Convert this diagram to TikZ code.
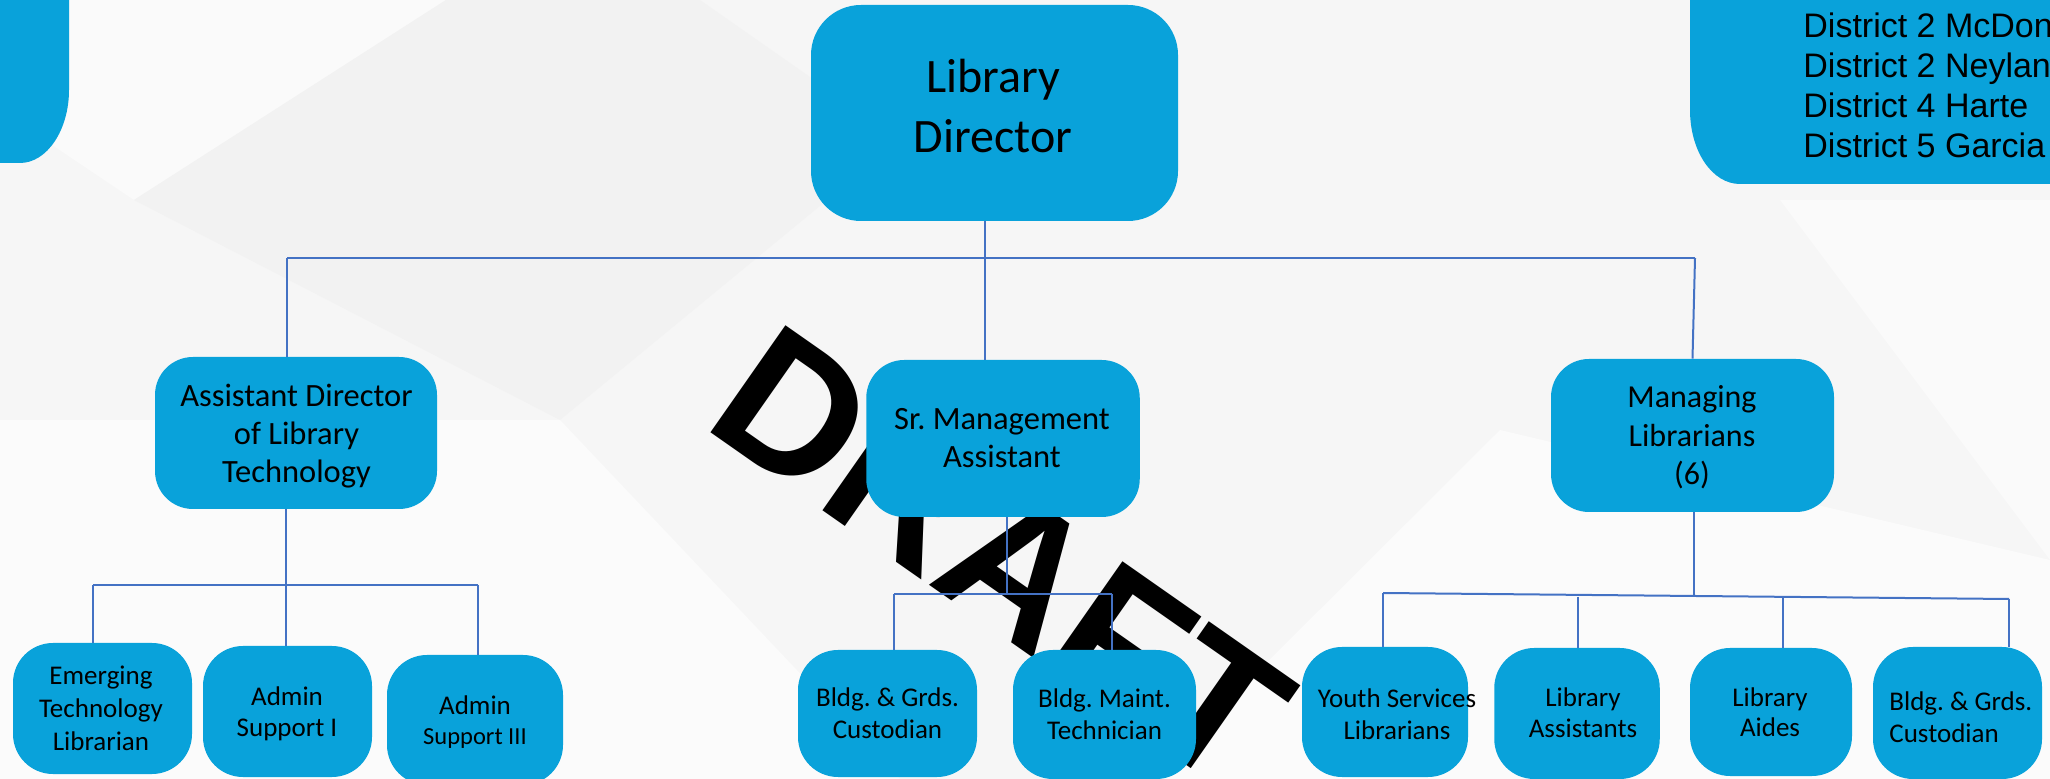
\documentclass[tikz,border=0pt]{standalone}
\usepackage{fontspec}
\setmainfont{Carlito}
\newfontfamily\arialf{Liberation Sans}
\usetikzlibrary{calc}
\definecolor{boxblue}{RGB}{9,162,218}
\definecolor{lineblue}{RGB}{68,114,196}
\definecolor{bgbase}{RGB}{246,246,246}
\definecolor{bglight}{RGB}{250,250,250}
\definecolor{bgwhite}{RGB}{251,251,251}
\definecolor{bgdark}{RGB}{242,242,242}
\newcommand\tbox[1]{\rule{0pt}{1em}#1\rule[-1em]{0pt}{1em}}
\frenchspacing
\tikzset{
  box/.style={fill=boxblue, draw=none, inner sep=0pt, rounded corners=20pt},
  txt/.style={inner sep=0pt, align=center, text=black, execute at begin node=\frenchspacing},
  conn/.style={draw=lineblue, line width=1pt},
  bigf/.style={font=\fontsize{24}{30}\selectfont},
  midf/.style={font=\fontsize{16.25}{19}\selectfont},
  lowf/.style={font=\fontsize{13.5}{16}\selectfont},
}
\begin{document}
\begin{tikzpicture}[x=0.5pt,y=-0.5pt]
\useasboundingbox (0,0) rectangle (2050,779);
\clip (0,0) rectangle (2050,779);
% background
\fill[bgbase] (0,0) rectangle (2050,779);
\fill[bglight] (0,0) -- (446,0) -- (134,200) -- (0,110) -- cycle;
\fill[bgdark] (134,200) -- (446,0) -- (700,0) -- (900,140) -- (560,420) -- cycle;
\fill[bgwhite] (0,420) -- (560,420) -- (900,779) -- (0,779) -- cycle;
\fill[bgwhite] (1150,779) -- (1500,430) -- (2050,560) -- (2050,779) -- cycle;
\fill[bglight] (1780,200) -- (2050,200) -- (2050,560) -- cycle;
% watermark
\node[inner sep=0pt, anchor=base west, rotate=-35, font=\arialf\bfseries\fontsize{95}{95}\selectfont] (draft) at (700,425) {DRAFT};
% corner boxes
\fill[boxblue] (-20,-20) -- (69,-20) -- (69,90) .. controls (69,130) and (47,163) .. (20,163) -- (-20,163) -- cycle;
\fill[boxblue] (2070,-20) -- (1690,-20) -- (1690,110) .. controls (1690,151) and (1712,184) .. (1740,184) -- (2070,184) -- cycle;
\node[txt, align=left, anchor=west, font=\arialf\fontsize{17}{20}\selectfont] (council) at (1803,98)
  {\tbox{District 2 McDon\\District 2 Neylan\\District 4 Harte\\District 5 Garcia}};
% boxes
\node[box, rounded corners=25pt, minimum width=183.5pt, minimum height=108pt] (dir) at (994.5,113) {};
\node[box, rounded corners=19pt, minimum width=141pt, minimum height=76pt] (ad) at (296,433) {};
\node[box, rounded corners=19pt, minimum width=136.75pt, minimum height=78.5pt] (sma) at (1003,438.5) {};
\node[box, rounded corners=19pt, minimum width=141.5pt, minimum height=76.5pt] (ml) at (1692.5,435.5) {};
\node[box, minimum width=89.5pt, minimum height=65.5pt] (emt) at (102.5,708.5) {};
\node[box, minimum width=84.5pt, minimum height=65.5pt] (as1) at (287.5,711.5) {};
\node[box, minimum width=88pt, minimum height=65pt] (as3) at (475,720) {};
\node[box, minimum width=89.5pt, minimum height=63.5pt] (cu1) at (887.5,713.5) {};
\node[box, minimum width=91.5pt, minimum height=64.5pt] (tec) at (1104.5,714.5) {};
\node[box, minimum width=83pt, minimum height=65pt] (yth) at (1385,712) {};
\node[box, minimum width=82.75pt, minimum height=65.5pt] (las) at (1577,713.5) {};
\node[box, minimum width=81pt, minimum height=64pt] (aid) at (1771,712) {};
\node[box, minimum width=84.5pt, minimum height=66pt] (cu2) at (1957.5,713) {};
% texts
\node[txt, bigf] (dirT) at (993,123) {\tbox{Library\\Director}};
\node[txt, midf] (adT) at (296.5,445) {\tbox{Assistant Director\\of Library\\Technology}};
\node[txt, midf] (smaT) at (1002,449) {\tbox{Sr. Management\\Assistant}};
\node[txt, font=\fontsize{16}{19.25}\selectfont] (mlT) at (1692,446.5) {\tbox{Managing\\Librarians\\(6)}};
\node[txt, font=\fontsize{13.5}{16.25}\selectfont] (emtT) at (101,717.5) {\tbox{Emerging\\Technology\\Librarian}};
\node[txt, lowf] (as1T) at (287,721) {\tbox{Admin\\Support I}};
\node[txt, font=\fontsize{13.5}{15}\selectfont] (as3T) at (475,730) {\tbox{Admin\\{\fontsize{12.25}{15}\selectfont Support III}}};
\node[txt, lowf] (cu1T) at (887.5,723) {\tbox{Bldg. \& Grds.\\Custodian}};
\node[txt, lowf] (tecT) at (1104.5,724) {\tbox{Bldg. Maint.\\Technician}};
\node[txt, lowf] (ythT) at (1397,724) {\tbox{Youth Services\\Librarians}};
\node[txt, font=\fontsize{13.5}{15.5}\selectfont] (lasT) at (1583,722.5) {\tbox{Library\\Assistants}};
\node[txt, font=\fontsize{13.5}{15.5}\selectfont] (aidT) at (1770,721.5) {\tbox{Library\\Aides}};
\node[txt, lowf, align=left, anchor=west] (cu2T) at (1889,726) {\tbox{Bldg. \& Grds.\\Custodian}};
% connectors
\coordinate (jDir) at (985,259);
\coordinate (jL) at (287,258);
\coordinate (jR) at (1695,258);
\draw[conn] (jL) -- (jR);
\draw[conn] (jDir |- dir.south) -- (jDir);
\draw[conn] (jL) -- (jL |- ad.north);
\draw[conn] (jDir) -- (jDir |- sma.north);
\draw[conn] (jR) -- (ml.north);
\coordinate (jA) at (286,585);
\coordinate (jA1) at (93,585);
\coordinate (jA3) at (478,585);
\draw[conn] (jA |- ad.south) -- (jA);
\draw[conn] (jA1) -- (jA3);
\draw[conn] (jA1) -- (jA1 |- emt.north);
\draw[conn] (jA) -- (jA |- as1.north);
\draw[conn] (jA3) -- (jA3 |- as3.north);
\coordinate (jS) at (1007,594);
\coordinate (jS1) at (894,594);
\coordinate (jS2) at (1112,594);
\draw[conn] (jS |- sma.south) -- (jS);
\draw[conn] (jS1) -- (jS2);
\draw[conn] (jS1) -- (jS1 |- cu1.north);
\draw[conn] (jS2) -- (jS2 |- tec.north);
\coordinate (jM) at (1694,595);
\coordinate (jM1) at (1383,593);
\coordinate (jM2) at (1578,597);
\coordinate (jM3) at (1783,597.5);
\coordinate (jM4) at (2009,599);
\draw[conn] (jM |- ml.south) -- (jM);
\draw[conn] (jM1) -- (jM4);
\draw[conn] (jM1) -- (jM1 |- yth.north);
\draw[conn] (jM2) -- (jM2 |- las.north);
\draw[conn] (jM3) -- (jM3 |- aid.north);
\draw[conn] (jM4) -- (jM4 |- cu2.north);
\end{tikzpicture}
\end{document}
